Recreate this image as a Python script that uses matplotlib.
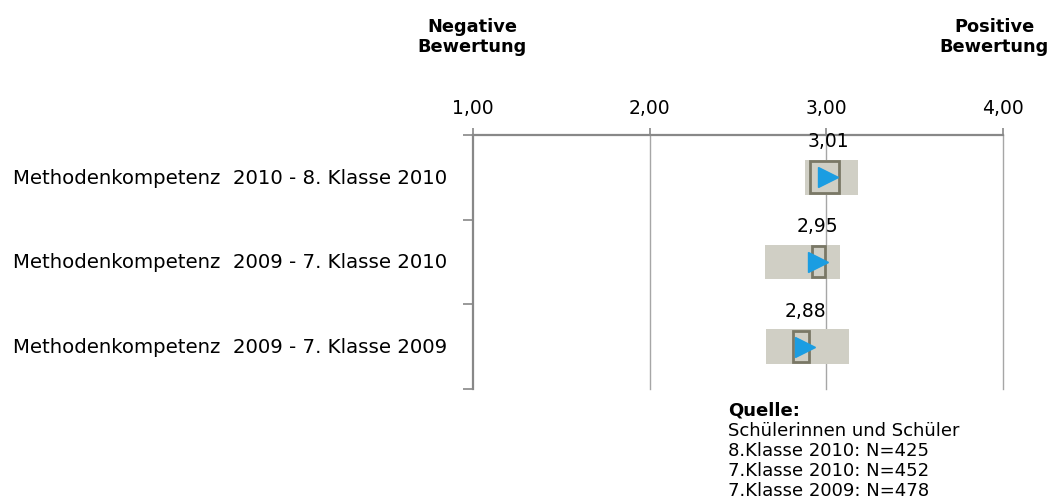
import matplotlib

matplotlib.use("Agg", force=True)
import matplotlib.pyplot as plt
from matplotlib.patches import Rectangle
from matplotlib.transforms import blended_transform_factory


CATEGORIES = [
    "Methodenkompetenz  2010 - 8. Klasse 2010",
    "Methodenkompetenz  2009 - 7. Klasse 2010",
    "Methodenkompetenz  2009 - 7. Klasse 2009",
]
MEANS = [3.01, 2.95, 2.88]
BAND_LOW = [2.88, 2.65, 2.66]
BAND_HIGH = [3.18, 3.08, 3.13]
BOX_LOW = [2.91, 2.92, 2.81]
BOX_HIGH = [3.07, 2.99, 2.90]
X_TICKS = [1, 2, 3, 4]
SOURCE_TITLE = "Quelle:"
SOURCE_LINES = [
    "Schülerinnen und Schüler",
    "8.Klasse 2010: N=425",
    "7.Klasse 2010: N=452",
    "7.Klasse 2009: N=478",
]

BAND_COLOR = "#d0cfc5"
BOX_EDGE = "#7a7866"
MARKER_COLOR = "#1b9de2"
AXIS_COLOR = "#888888"
GRID_COLOR = "#a6a6a6"

W, H = 1049, 502


def fx(x):
    return x / W


def fy(y):
    return 1 - y / H


def comma(v):
    return f"{v:.2f}".replace(".", ",")


plt.rcParams["font.family"] = ["DejaVu Sans"]

fig = plt.figure(figsize=(W / 100, H / 100), dpi=100)
ax = fig.add_axes([fx(473), fy(390), fx(1003) - fx(473), fy(136) - fy(390)])

ax.set_xlim(1, 4)
ax.set_ylim(len(CATEGORIES), 0)

for t in X_TICKS[1:]:
    ax.axvline(t, color=GRID_COLOR, lw=1.0, zorder=0, clip_on=False)

centers = [i + 0.5 for i in range(len(CATEGORIES))]
bh = 0.41
for yc, lo, hi, blo, bhi, m in zip(centers, BAND_LOW, BAND_HIGH, BOX_LOW, BOX_HIGH, MEANS):
    ax.barh(yc, hi - lo, left=lo, height=bh, color=BAND_COLOR, zorder=2)
    ax.add_patch(Rectangle((blo, yc - bh / 2 + 0.015), bhi - blo, bh - 0.04,
                           facecolor="none", edgecolor=BOX_EDGE, lw=2.0, zorder=3))
    ax.plot([m], [yc], marker=">", ms=14, color=MARKER_COLOR, mec=MARKER_COLOR, zorder=4)
    ax.text(m, yc - 0.43, comma(m), ha="center", va="center", fontsize=13.5, zorder=5)

ax.xaxis.tick_top()
ax.set_xticks(X_TICKS)
ax.set_xticklabels([comma(t) for t in X_TICKS], fontsize=13.5)
ax.tick_params(axis="x", length=5, width=1.2, color=AXIS_COLOR, pad=8)
ax.set_yticks(range(len(CATEGORIES) + 1))
ax.set_yticklabels([])
ax.tick_params(axis="y", length=7, width=1.2, color=AXIS_COLOR)

for side in ("right", "bottom"):
    ax.spines[side].set_visible(False)
for side in ("left", "top"):
    ax.spines[side].set_color(AXIS_COLOR)
    ax.spines[side].set_linewidth(1.6)

trans = blended_transform_factory(fig.transFigure, ax.transData)
for yc, label in zip(centers, CATEGORIES):
    ax.text(fx(13), yc, label, transform=trans, ha="left", va="center", fontsize=14.2)

fig.text(fx(472), fy(37), "Negative\nBewertung", ha="center", va="center",
         fontsize=12.8, fontweight="bold", linespacing=1.15)
fig.text(fx(994), fy(37), "Positive\nBewertung", ha="center", va="center",
         fontsize=12.8, fontweight="bold", linespacing=1.15)

fig.text(fx(728), fy(411), SOURCE_TITLE, ha="left", va="center", fontsize=13, fontweight="bold")
for i, line in enumerate(SOURCE_LINES):
    fig.text(fx(728), fy(431 + 20 * i), line, ha="left", va="center", fontsize=13)

fig.savefig("out.png", dpi=100)
